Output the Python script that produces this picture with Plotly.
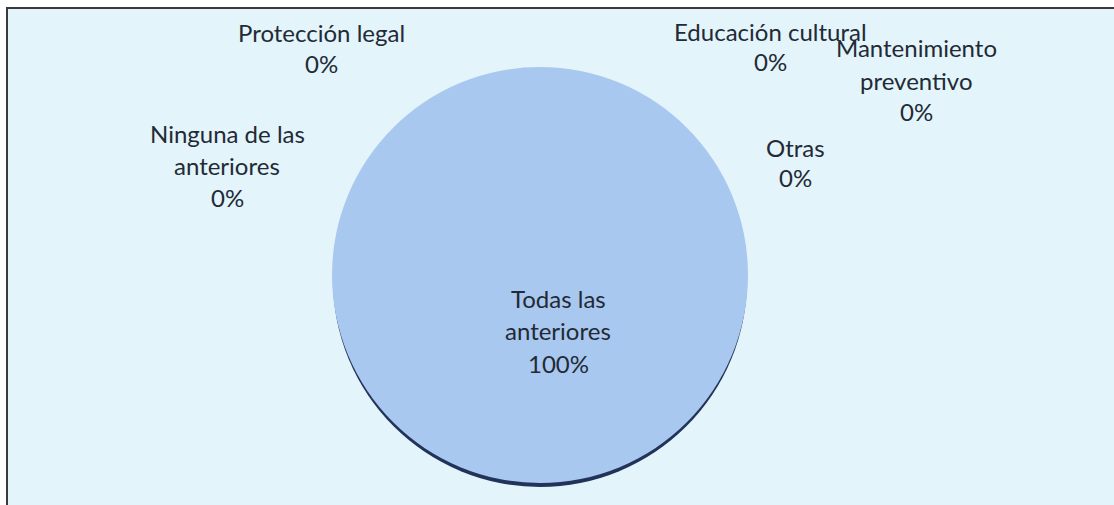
import plotly.graph_objects as go

# ---- data ----
categories = ["Protección legal", "Educación cultural", "Mantenimiento preventivo",
              "Otras", "Todas las anteriores", "Ninguna de las anteriores"]
values = [0, 0, 0, 0, 100, 0]
label_lines = [["Protección legal"], ["Educación cultural"], ["Mantenimiento", "preventivo"],
               ["Otras"], ["Todas las", "anteriores"], ["Ninguna de las", "anteriores"]]

W, H = 1114, 505
FONT = "Lato"
TXT = "#222a35"
FS = 24

total = sum(values)
pcts = [round(v / total * 100) for v in values]

# pie geometry (pixels)
cx, cy, d = 540, 275, 416

def dom(cx, cy, d):
    return dict(x=[(cx - d / 2) / W, (cx + d / 2) / W],
                y=[(H - cy - d / 2) / H, (H - cy + d / 2) / H])

fig = go.Figure()
# shadow rim
fig.add_trace(go.Pie(labels=categories, values=values, domain=dom(cx, cy + 5, d - 2),
                     marker=dict(colors=["#22335a"] * len(values), line=dict(width=0)),
                     textinfo="none", hoverinfo="skip", sort=False, showlegend=False))
fig.add_trace(go.Pie(labels=categories, values=values, domain=dom(cx, cy, d),
                     marker=dict(colors=["#a9c8ef"] * len(values), line=dict(width=0)),
                     textinfo="none", hovertemplate="%{label}: %{percent}<extra></extra>",
                     sort=False, direction="clockwise", showlegend=False))

# data-label placement (pixels: center x, first line y, line step)
label_pos = {
    "Protección legal": (321, 32, 31),
    "Educación cultural": (770, 31, 30),
    "Mantenimiento preventivo": (916, 48, 32),
    "Otras": (795, 147, 30),
    "Todas las anteriores": (558, 298, 32.5),
    "Ninguna de las anteriores": (227, 133, 32),
}
annotations = []
for cat, lines, p in zip(categories, label_lines, pcts):
    x, y0, ls = label_pos[cat]
    for i, t in enumerate(lines + [f"{p}%"]):
        annotations.append(dict(x=x / W, y=1 - (y0 + i * ls) / H, xref="paper", yref="paper",
                                text=t, showarrow=False, xanchor="center", yanchor="middle",
                                font=dict(family=FONT, size=FS, color=TXT)))

shapes = [dict(type="rect", xref="paper", yref="paper",
               x0=7 / W, x1=1.2, y0=-0.2, y1=1 - 8 / H,
               fillcolor="#e3f4fb", line=dict(color="#3a3a3a", width=2), layer="below")]

fig.update_layout(width=W, height=H, margin=dict(l=0, r=0, t=0, b=0),
                  paper_bgcolor="white", plot_bgcolor="white",
                  shapes=shapes, annotations=annotations,
                  font=dict(family=FONT, color=TXT))

fig.write_html("out.html", config={"displayModeBar": False},
               post_script="document.body.style.margin='0px';")
